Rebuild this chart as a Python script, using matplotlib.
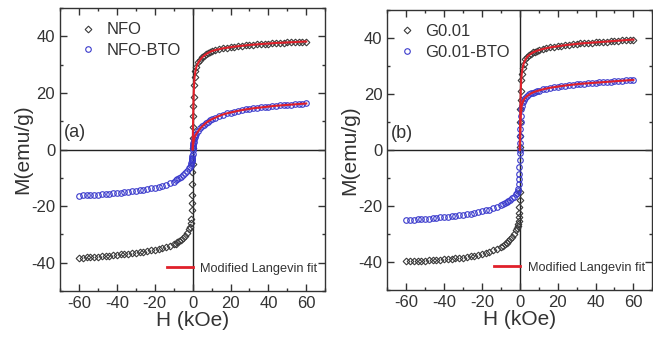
import matplotlib
matplotlib.use("Agg")
import matplotlib.pyplot as plt
from matplotlib.ticker import MultipleLocator
from matplotlib.lines import Line2D

plt.rcParams['font.family'] = ['Liberation Sans', 'DejaVu Sans']
plt.rcParams['axes.unicode_minus'] = False

# Field grid (kOe)
H_pos = [0.0, 0.1, 0.2, 0.3, 0.4, 0.5, 0.75, 1.0, 1.5, 2.0, 3.0, 4.0, 5.0, 6.0, 7.0, 8.0, 9.0, 10.0,
         12.0, 14.0, 16.0, 18.0, 20.0, 22.0, 24.0, 26.0, 28.0, 30.0, 32.0, 34.0, 36.0, 38.0, 40.0,
         42.0, 44.0, 46.0, 48.0, 50.0, 52.0, 54.0, 56.0, 58.0, 60.0]
H_neg = [-0.0, -0.1, -0.2, -0.3, -0.4, -0.5, -0.75, -1.0, -1.5, -2.0, -3.0, -4.0, -5.0, -6.0, -7.0, -8.0, -9.0, -10.0,
         -12.0, -14.0, -16.0, -18.0, -20.0, -22.0, -24.0, -26.0, -28.0, -30.0, -32.0, -34.0, -36.0, -38.0, -40.0,
         -42.0, -44.0, -46.0, -48.0, -50.0, -52.0, -54.0, -56.0, -58.0, -60.0]

# Panel (a)
nfo_pos = [0.5, 4.0, 8.0, 12.0, 15.5, 18.5, 23.0, 25.5, 27.8, 29.3, 30.8, 31.8, 32.6, 33.2, 33.7, 34.1, 34.5, 34.8,
           35.2, 35.5, 35.8, 36.0, 36.2, 36.4, 36.55, 36.7, 36.85, 37.0, 37.1, 37.2, 37.3, 37.4, 37.5,
           37.6, 37.7, 37.75, 37.8, 37.9, 37.95, 38.0, 38.1, 38.15, 38.2]
nfo_neg = [-5.0, -8.0, -12.0, -16.0, -19.0, -21.5, -24.5, -26.0, -27.2, -28.2, -29.6, -30.6, -31.3, -31.9, -32.4, -32.8, -33.2, -33.5,
           -34.0, -34.4, -34.8, -35.1, -35.4, -35.6, -35.85, -36.05, -36.25, -36.45, -36.6, -36.75, -36.9, -37.05, -37.2,
           -37.35, -37.5, -37.6, -37.7, -37.8, -37.9, -38.0, -38.1, -38.2, -38.3]
nfobto_pos = [0.0, 0.6, 1.2, 1.8, 2.3, 2.8, 3.7, 4.3, 5.0, 5.6, 6.6, 7.5, 8.2, 8.8, 9.4, 9.9, 10.3, 10.7,
              11.3, 11.9, 12.4, 12.8, 13.1, 13.4, 13.7, 13.95, 14.2, 14.4, 14.6, 14.75, 14.9, 15.05, 15.2,
              15.35, 15.5, 15.6, 15.7, 15.8, 15.9, 16.0, 16.1, 16.2, 16.3]
nfobto_neg = [-1.5, -2.2, -2.8, -3.3, -3.8, -4.2, -4.8, -5.3, -6.0, -6.6, -7.5, -8.3, -9.0, -9.6, -10.1, -10.5, -10.9, -11.3,
              -11.9, -12.4, -12.8, -13.1, -13.4, -13.7, -13.95, -14.2, -14.4, -14.6, -14.8, -14.95, -15.1, -15.25, -15.4,
              -15.5, -15.6, -15.7, -15.8, -15.9, -16.0, -16.05, -16.1, -16.2, -16.25]

# Panel (b)
g_pos = [1.0, 5.0, 10.0, 14.5, 18.0, 21.0, 25.0, 27.0, 29.2, 30.7, 32.3, 33.3, 33.9, 34.4, 34.8, 35.1, 35.4, 35.6,
         36.0, 36.3, 36.6, 36.8, 37.0, 37.2, 37.4, 37.55, 37.7, 37.85, 38.0, 38.1, 38.2, 38.3, 38.4,
         38.5, 38.6, 38.7, 38.8, 38.9, 39.0, 39.1, 39.2, 39.3, 39.4]
g_neg = [-15.0, -18.0, -20.5, -22.5, -24.0, -25.2, -26.5, -27.3, -28.0, -28.6, -29.9, -31.0, -31.9, -32.6, -33.2, -33.7, -34.2, -34.6,
         -35.3, -35.8, -36.3, -36.8, -37.2, -37.5, -37.8, -38.0, -38.2, -38.4, -38.55, -38.7, -38.85, -39.0, -39.1,
         -39.2, -39.3, -39.4, -39.45, -39.5, -39.6, -39.65, -39.7, -39.75, -39.8]
gbto_pos = [0.0, 2.5, 5.0, 7.5, 10.0, 12.0, 14.5, 15.8, 17.0, 17.8, 18.7, 19.3, 19.8, 20.2, 20.5, 20.8, 21.0, 21.2,
            21.6, 21.9, 22.2, 22.4, 22.6, 22.8, 23.0, 23.15, 23.3, 23.45, 23.6, 23.7, 23.8, 23.9, 24.0,
            24.1, 24.2, 24.3, 24.4, 24.5, 24.6, 24.7, 24.8, 24.9, 25.0]
gbto_neg = [-1.0, -3.5, -6.0, -8.5, -10.5, -12.0, -13.8, -14.8, -15.5, -15.9, -16.8, -17.3, -17.7, -18.2, -18.6, -19.0, -19.4, -19.8,
            -20.4, -20.9, -21.3, -21.6, -21.9, -22.2, -22.5, -22.7, -22.9, -23.1, -23.3, -23.5, -23.65, -23.8, -23.95,
            -24.1, -24.25, -24.4, -24.5, -24.6, -24.7, -24.8, -24.9, -25.0, -25.1]

labels_a = ["NFO", "NFO-BTO"]
labels_b = ["G0.01", "G0.01-BTO"]
fit_label = "Modified Langevin fit"
x_ticks = [-60, -40, -20, 0, 20, 40, 60]
y_ticks = [-40, -20, 0, 20, 40]

TXT = '#333333'
BLACK = '#3a3a3a'
BLUE = '#3a3acc'
RED = '#e0202a'

fig = plt.figure(figsize=(6.53, 3.40), dpi=100)
ax1 = fig.add_axes([0.092, 0.144, 0.406, 0.832])
ax2 = fig.add_axes([0.593, 0.147, 0.406, 0.824])

def draw(ax, s1p, s1n, s2p, s2n, labels, tag, legx):
    ax.axhline(0, color='#222222', lw=1.0, zorder=1)
    ax.axvline(0, color='#222222', lw=1.0, zorder=1)
    dm = dict(marker='D', mec=BLACK, ms=3.4, mew=0.8, ls='none', mfc='none')
    cm = dict(marker='o', mec=BLUE, ms=4.0, mew=0.8, ls='none', mfc='none')
    ax.plot(H_neg, s1n, **dm, zorder=3)
    ax.plot(H_pos, s1p, **dm, zorder=3)
    ax.plot(H_neg, s2n, **cm, zorder=3)
    ax.plot(H_pos, s2p, **cm, zorder=3)
    ax.plot(H_pos, s1p, color=RED, lw=1.5, zorder=4)
    ax.plot(H_pos, s2p, color=RED, lw=1.5, zorder=4)
    ax.set_xlim(-70, 70)
    ax.set_ylim(-50, 50)
    ax.set_xticks(x_ticks)
    ax.set_yticks(y_ticks)
    ax.xaxis.set_minor_locator(MultipleLocator(10))
    ax.yaxis.set_minor_locator(MultipleLocator(10))
    ax.tick_params(which='both', direction='in', top=True, right=True, labelsize=12,
                   colors='#333333', labelcolor=TXT)
    ax.tick_params(which='major', length=5, width=1)
    ax.tick_params(which='minor', length=2.5, width=1)
    for sp in ax.spines.values():
        sp.set_color('#333333')
        sp.set_linewidth(1.0)
    ax.set_xlabel("H (kOe)", fontsize=15, color=TXT, labelpad=0)
    ax.set_ylabel("M(emu/g)", fontsize=15, color=TXT, labelpad=-1)
    ax.text(-68, 3, tag, fontsize=13, color=TXT, ha='left', va='bottom')
    h1 = Line2D([], [], **dm)
    h2 = Line2D([], [], **cm)
    leg = ax.legend([h1, h2], labels, loc='upper left', bbox_to_anchor=(legx, 0.985), frameon=False,
                    fontsize=12, handlelength=1.2, handletextpad=0.5, labelspacing=0.35, borderaxespad=0.2)
    for t in leg.get_texts():
        t.set_color(TXT)
    ax.add_artist(leg)
    h3 = Line2D([], [], color=RED, lw=2)
    leg2 = ax.legend([h3], [fit_label], loc='lower right', bbox_to_anchor=(1.0, 0.03), frameon=False,
                     fontsize=9.2, handlelength=2.0, handletextpad=0.6, borderaxespad=0.2)
    for t in leg2.get_texts():
        t.set_color(TXT)

draw(ax1, nfo_pos, nfo_neg, nfobto_pos, nfobto_neg, labels_a, "(a)", 0.03)
draw(ax2, g_pos, g_neg, gbto_pos, gbto_neg, labels_b, "(b)", 0.0)

fig.savefig("out.png", dpi=100)
